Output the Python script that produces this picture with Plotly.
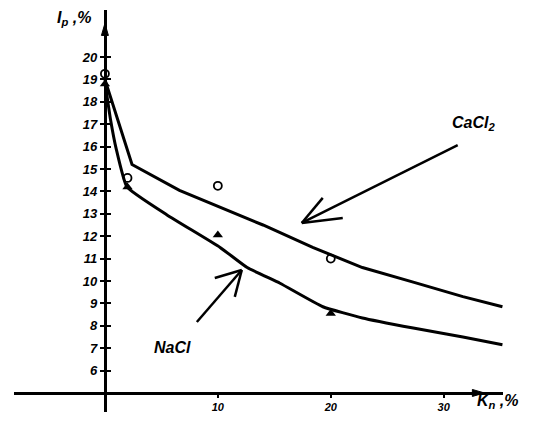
import plotly.graph_objects as go

# curves (Kn, %  ->  Ip, %)
cacl2_x = [0, 2.4, 6.6, 10.2, 14.0, 18.4, 22.8, 27.3, 31.7, 35.2]
cacl2_y = [19.0, 15.2, 14.05, 13.3, 12.5, 11.5, 10.6, 9.95, 9.3, 8.85]
nacl_x = [0, 0.5, 1.0, 1.95, 5.5, 10.2, 12.6, 15.5, 19.3, 22.8, 27.3, 31.7, 35.2]
nacl_y = [18.9, 17.2, 15.9, 14.2, 12.95, 11.5, 10.6, 9.9, 8.85, 8.35, 7.9, 7.5, 7.15]

# measured points
circ_x = [0, 2, 10, 20]
circ_y = [19.25, 14.6, 14.25, 11.0]
tri_x = [0, 2, 10, 20]
tri_y = [18.8, 14.2, 12.05, 8.55]

y_ticks = list(range(6, 21))
x_ticks = [10, 20, 30]

fnt = "Liberation Sans, Arial, sans-serif"
xr = [-8.05, 35.25]
yr = [4.15, 22.1]

fig = go.Figure()
fig.add_trace(go.Scatter(x=cacl2_x, y=cacl2_y, mode="lines",
                         line=dict(color="black", width=3)))
fig.add_trace(go.Scatter(x=nacl_x, y=nacl_y, mode="lines",
                         line=dict(color="black", width=3, shape="spline", smoothing=0.4)))
fig.add_trace(go.Scatter(x=circ_x, y=circ_y, mode="markers", cliponaxis=False,
                         marker=dict(symbol="circle-open", size=8, color="black",
                                     line=dict(width=1.8))))
fig.add_trace(go.Scatter(x=tri_x, y=tri_y, mode="markers", cliponaxis=False,
                         marker=dict(symbol="triangle-up", size=9, color="black")))

# pointer arrows (open V heads)
arrows = [
    ((31.24, 16.07), (17.43, 12.59), (19.29, 13.71), (21.06, 12.81)),
    ((8.14, 8.17), (12.12, 10.49), (9.73, 10.13), (11.5, 9.29)),
]
for tail, tip, b1, b2 in arrows:
    for p in (tail, b1, b2):
        fig.add_shape(type="line", x0=p[0], y0=p[1], x1=tip[0], y1=tip[1],
                      line=dict(color="black", width=2.5))

# axis arrowheads
fig.add_shape(type="path", xref="x", yref="y", xsizemode="pixel", ysizemode="pixel",
              xanchor=0, yanchor=21.5, path="M 0 0 L -3.5 -12 L 3.5 -12 Z",
              fillcolor="black", line=dict(color="black", width=1))
fig.add_shape(type="path", xref="x", yref="y", xsizemode="pixel", ysizemode="pixel",
              xanchor=33.6, yanchor=5, path="M 0 0 L -12 3.5 L -12 -3.5 Z",
              fillcolor="black", line=dict(color="black", width=1))

fig.add_annotation(x=32.6, y=17.05, text="CaCl<sub>2</sub>", showarrow=False,
                   font=dict(family=fnt, size=16, color="black", style="italic", weight="bold"))
fig.add_annotation(x=6.0, y=7.05, text="NaCl", showarrow=False,
                   font=dict(family=fnt, size=16, color="black", style="italic", weight="bold"))

# axis titles
fig.add_annotation(x=-2.7, y=21.7, text="I<sub>p</sub> ,%", showarrow=False,
                   font=dict(family=fnt, size=16, color="black", style="italic", weight="bold"))
fig.add_annotation(x=34.8, y=4.6, text="K<sub>n</sub> ,%", showarrow=False,
                   font=dict(family=fnt, size=16, color="black", style="italic", weight="bold"))

fig.update_layout(
    width=535, height=430,
    margin=dict(l=6, r=40, t=2, b=26),
    paper_bgcolor="white", plot_bgcolor="white",
    showlegend=False,
    xaxis=dict(range=xr, anchor="free", position=(5 - yr[0]) / (yr[1] - yr[0]),
               showline=True, linecolor="black", linewidth=3,
               showgrid=False, zeroline=False,
               tickvals=x_ticks, ticks="outside", ticklen=3, tickwidth=1.5, tickcolor="black",
               tickfont=dict(family=fnt, size=11, color="black", style="italic", weight="bold")),
    yaxis=dict(range=yr, anchor="free", position=-xr[0] / (xr[1] - xr[0]),
               showline=True, linecolor="black", linewidth=3,
               showgrid=False, zeroline=False,
               tickvals=y_ticks, ticks="outside", ticklen=4, tickwidth=2, tickcolor="black",
               minor=dict(tickvals=y_ticks, ticks="inside", ticklen=4, tickwidth=2,
                          tickcolor="black", showgrid=False),
               tickfont=dict(family=fnt, size=13, color="black", style="italic", weight="bold")),
)

fig.write_html("out.html")
